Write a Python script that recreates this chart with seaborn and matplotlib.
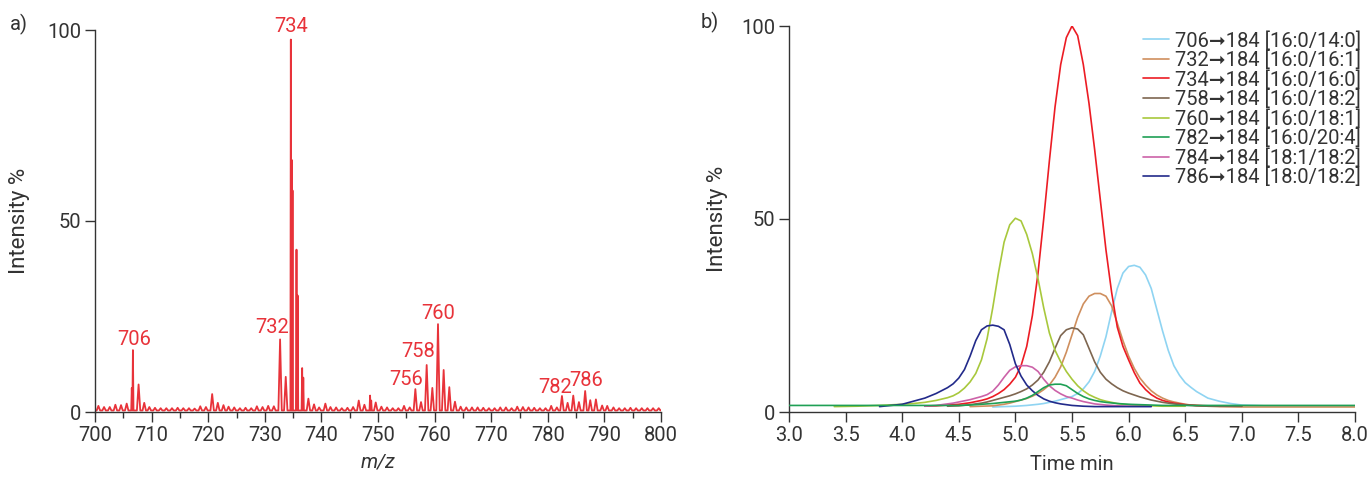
import numpy as np
import pandas as pd
import matplotlib
matplotlib.use('Agg')
import matplotlib.pyplot as plt
import matplotlib.ticker as mticker
import seaborn as sns

nan = np.nan

# ---- a) mass spectrum ----
# main peaks (m/z, intensity %)
peak_mz = [706.5, 706.7, 707.7, 708.7, 720.7, 721.7, 722.7,
           732.7, 733.7, 734.6, 734.75, 734.9, 735.6, 735.8, 736.6, 736.8, 737.7, 738.7,
           740.7, 746.6, 748.6, 748.8, 749.6,
           756.6, 757.6, 758.6, 759.6, 760.6, 761.6, 762.6, 763.6,
           782.5, 783.5, 784.5, 785.5, 786.6, 787.5, 788.5, 790.5]
peak_int = [6.3, 16.2, 7.2, 2.4, 4.7, 2.4, 1.8,
            19.0, 9.2, 97.5, 66.0, 58.0, 42.5, 30.5, 11.5, 9.0, 3.5, 2.0,
            2.2, 3.0, 4.3, 3.0, 2.5,
            6.0, 2.6, 12.3, 6.3, 23.0, 11.0, 6.5, 2.7,
            4.2, 2.4, 4.3, 2.6, 5.5, 3.1, 3.3, 1.6]

# small background peaks, one per nominal mass 700..799 (nan where a main peak sits)
noise_int = [1.6, 1.3, 1.3, 1.9, 1.8, 2.2, nan, nan, nan, 1.3,
             1.1, 1.0, 1.0, 1.0, 1.1, 1.0, 1.0, 0.9, 1.5, 1.3,
             nan, nan, nan, 1.4, 1.2, 1.0, 1.1, 1.0, 1.5, 1.3,
             1.6, 1.5, nan, nan, nan, nan, nan, nan, nan, 1.2,
             nan, 1.3, 1.2, 1.0, 1.1, 1.3, nan, 1.9, nan, nan,
             1.4, 1.2, 1.0, 1.0, 1.6, 1.2, nan, nan, nan, nan,
             nan, nan, nan, nan, 1.4, 1.2, 1.2, 1.2, 1.1, 1.0,
             1.0, 1.2, 1.2, 1.0, 1.4, 1.3, 1.2, 1.1, 1.0, 1.0,
             1.6, 1.2, nan, nan, nan, nan, nan, nan, nan, 1.7,
             nan, 1.2, 1.0, 1.0, 1.1, 1.0, 1.0, 1.0, 1.0, 1.0]

label_text = ['706', '732', '734', '756', '758', '760', '782', '786']

# ---- b) chromatograms ----
# time grid: coarse on the flat baseline, 0.05 min across the peaks
time = ([3.0, 3.2, 3.4, 3.6, 3.8, 4.0, 4.1, 4.2, 4.3]
        + list(np.round(np.arange(4.4, 6.601, 0.05), 2))
        + [6.7, 6.8, 6.9, 7.0, 7.2, 7.4, 7.6, 7.8, 8.0])
transitions = ['706\u279e184 [16:0/14:0]', '732\u279e184 [16:0/16:1]',
               '734\u279e184 [16:0/16:0]', '758\u279e184 [16:0/18:2]',
               '760\u279e184 [16:0/18:1]', '782\u279e184 [16:0/20:4]',
               '784\u279e184 [18:1/18:2]', '786\u279e184 [18:0/18:2]']
y706 = ([nan] * 9
        + [nan] * 8
        + [1.3, 1.35, 1.4, 1.45, 1.5, 1.6, 1.7, 1.85, 2.0, 2.2,
           2.5, 2.8, 3.2, 3.6, 4.0, 4.8, 6.0, 7.8, 10.5, 14.5,
           19.5, 26, 32, 36, 37.7, 38, 37.5, 35.5, 32, 26.5,
           21, 16, 12, 9.5, 7.6, 6.4, 5.3]
        + [3.6, 2.8, 2.2, 1.8, 1.6, 1.6, 1.6, 1.6, 1.6])
y732 = ([nan] * 9
        + [nan] * 4
        + [1.4, 1.45, 1.5, 1.55, 1.6, 1.8, 2.0, 2.3, 2.7, 3.1,
           3.5, 4.1, 4.8, 5.8, 7.0, 9.0, 11.7, 15.5, 20, 24.5,
           28, 30, 30.7, 30.7, 30, 27.5, 23, 18.5, 14.5, 11.3,
           8.8, 7.0, 5.5, 4.4, 3.6, 3.0, 2.6, 2.3, 2.0, 1.8, 1.7]
        + [1.5, 1.4, 1.35, 1.3, 1.3, 1.3, 1.3, 1.3, 1.3])
y734 = ([nan] * 7 + [1.5, 1.6]
        + [1.8, 1.9, 2.0, 2.2, 2.4, 2.7, 3.0, 3.4, 4.0, 4.8,
           5.8, 7.2, 9.0, 12, 17, 25, 36, 50, 65, 79,
           90, 97, 100, 97.5, 90, 80, 68, 55, 42, 31,
           22, 17, 13.5, 10.2, 7.5, 5.8, 4.5, 3.6, 3.0, 2.6,
           2.3, 2.1, 1.9, 1.8, 1.7]
        + [1.6, 1.5, 1.5, 1.5] + [nan] * 5)
y758 = ([nan] * 9
        + [1.5, 1.55, 1.6, 1.75, 1.9, 2.1, 2.3, 2.6, 3.0, 3.4,
           3.8, 4.2, 4.7, 5.3, 6.0, 7.0, 8.3, 10.3, 13, 16.5,
           19.8, 21.3, 21.8, 21.5, 20, 16.5, 13, 10.3, 8.5, 7.3,
           6.3, 5.5, 4.9, 4.4, 3.9, 3.5, 3.1, 2.8, 2.5, 2.3,
           2.1, 1.95, 1.8, 1.7, 1.6]
        + [1.5, 1.5, 1.5, 1.5] + [nan] * 5)
y760 = ([nan, nan, 1.4, 1.5, 1.7, 2.0, 2.2, 2.5, 3.0]
        + [3.7, 4.2, 5.0, 6.2, 7.8, 10.0, 13.5, 19, 27, 36,
           44, 48.5, 50.2, 49.5, 46, 41, 34.5, 27, 20.5, 16,
           13, 10.5, 8.5, 6.8, 5.5, 4.5, 3.8, 3.2, 2.8, 2.5,
           2.2, 2.0, 1.9, 1.8, 1.7, 1.65, 1.6, 1.55, 1.5, 1.5,
           1.5, 1.5, 1.5, nan, nan]
        + [nan] * 9)
y782 = ([1.7] * 9
        + [1.7, 1.7, 1.7, 1.75, 1.8, 1.9, 2.0, 2.1, 2.2, 2.35,
           2.5, 2.65, 2.8, 3.1, 3.6, 4.3, 5.3, 6.3, 7.0, 7.2,
           7.2, 6.8, 5.8, 4.8, 4.0, 3.4, 3.0, 2.7, 2.5, 2.35,
           2.2, 2.1, 2.0, 1.95, 1.9, 1.85, 1.8, 1.75, 1.7, 1.7,
           1.7, 1.7, 1.7, 1.7, 1.7]
        + [1.7] * 9)
y784 = ([nan] * 7 + [1.5, 1.7]
        + [2.1, 2.3, 2.6, 2.9, 3.2, 3.6, 4.0, 4.5, 5.4, 7.0,
           9.0, 10.8, 11.7, 12.0, 12.0, 11.6, 10.5, 8.5, 6.8, 5.6,
           4.7, 4.0, 3.6, 3.1, 2.7, 2.4, 2.1, 1.95, 1.8, 1.7,
           1.6, 1.55, 1.5, 1.5, 1.5, 1.5, 1.5]
        + [nan] * 8 + [nan] * 9)
y786 = ([nan, nan, nan, nan, 1.4, 2.0, 2.8, 3.6, 4.8]
        + [6.3, 7.3, 8.8, 11.0, 14.5, 18.5, 21.3, 22.3, 22.5, 22.2,
           21.3, 17.5, 12.5, 9.3, 7.0, 5.5, 4.3, 3.4, 2.8, 2.4,
           2.1, 1.9, 1.7, 1.6, 1.5, 1.45, 1.4]
        + [1.4] * 10 + [nan] * 8 + [nan] * 9)
chrom = [y706, y732, y734, y758, y760, y782, y784, y786]
chrom_colors = ['#8fd4f2', '#cf8f5e', '#ec1c24', '#7e6650', '#a8c83c', '#1fa055',
                '#cc62a8', '#222a8a']

# ---- style ----
sns.set_style('ticks')
plt.rcParams['font.family'] = ['Roboto', 'DejaVu Sans']
text_c = '#333333'
spec_red = '#e8333a'
plt.rcParams.update({
    'axes.edgecolor': text_c, 'axes.linewidth': 1.0,
    'xtick.color': text_c, 'ytick.color': text_c,
    'xtick.labelcolor': text_c, 'ytick.labelcolor': text_c,
    'axes.labelcolor': text_c, 'font.size': 14.5,
})

fig = plt.figure(figsize=(13.72, 4.78), dpi=100)
W, H = 1372, 478
ax1 = fig.add_axes([95 / W, 1 - 412 / H, 566 / W, 382 / H])
ax2 = fig.add_axes([789 / W, 1 - 412 / H, 566 / W, 386 / H])

# build profile of the spectrum from the peak list
mz_list = list(peak_mz)
in_list = list(peak_int)
for i, v in enumerate(noise_int):
    if not np.isnan(v):
        mz_list.append(700.6 + i)
        in_list.append(v)
order = np.argsort(mz_list)
c = np.array(mz_list)[order]
h = np.array(in_list)[order]
base = 0.4
gaps = np.diff(c)
px, py = [700.0], [base]
for k in range(len(c)):
    gl = gaps[k - 1] if k > 0 else 1.0
    gr = gaps[k] if k < len(gaps) else 1.0
    w = min(0.3, 0.5 * gl, 0.5 * gr)
    px += [c[k] - w, c[k], c[k] + w]
    py += [base, h[k], base]
px.append(800.0)
py.append(base)
spec = pd.DataFrame({'mz': px, 'intensity': py})
sns.lineplot(data=spec, x='mz', y='intensity', ax=ax1, sort=False, estimator=None,
             color=spec_red, lw=1.3)

label_x = [706.9, 731.3, 734.6, 754.9, 757.1, 760.6, 781.3, 786.7]
label_y = [17.5, 20.7, 99.5, 7.1, 14.4, 24.3, 5.0, 6.8]
for t, x, y in zip(label_text, label_x, label_y):
    ax1.text(x, y, t, ha='center', va='baseline', color=spec_red, fontsize=14.5)

ax1.set_xlim(700, 800)
ax1.set_ylim(0, 100)
ax1.xaxis.set_major_locator(mticker.MultipleLocator(10))
ax1.xaxis.set_minor_locator(mticker.MultipleLocator(5))
ax1.set_yticks([0, 50, 100])
ax1.set_xlabel('m/z', style='italic')
ax1.set_ylabel('Intensity %', fontsize=16)

# chromatograms
rows = []
for name, ys in zip(transitions, chrom):
    for t, v in zip(time, ys):
        if not np.isnan(v):
            rows.append((name, t, v))
cdf = pd.DataFrame(rows, columns=['transition', 'time', 'intensity'])
sns.lineplot(data=cdf, x='time', y='intensity', hue='transition', hue_order=transitions,
             palette=chrom_colors, ax=ax2, sort=False, estimator=None, lw=1.2)
for ln in ax2.get_lines():
    if ln.get_color() == chrom_colors[5]:
        ln.set_zorder(3)
ax2.set_xlim(3, 8)
ax2.set_ylim(0, 100)
ax2.xaxis.set_major_locator(mticker.MultipleLocator(0.5))
ax2.xaxis.set_major_formatter(mticker.FormatStrFormatter('%.1f'))
ax2.set_yticks([0, 50, 100])
ax2.set_xlabel('Time min')
ax2.set_ylabel('Intensity %', fontsize=16)
ax2.legend(loc='upper left', bbox_to_anchor=(1143 / W, 1 - 31 / H),
           bbox_transform=fig.transFigure, frameon=False, fontsize=14.5,
           handlelength=1.3, handletextpad=0.3, labelspacing=0.0,
           borderpad=0, borderaxespad=0, labelcolor=text_c)

for ax in (ax1, ax2):
    sns.despine(ax=ax)
    ax.tick_params(axis='both', which='major', length=7, width=1.0, pad=3)
    ax.tick_params(axis='x', which='minor', length=4, width=1.0)
ax1.yaxis.set_label_coords(-0.115, 0.5)
ax2.yaxis.set_label_coords(-0.108, 0.5)
ax1.xaxis.set_label_coords(0.5, -0.105)
ax2.xaxis.set_label_coords(0.5, -0.112)

fig.text(19 / W, 1 - 24 / H, 'a)', ha='center', va='center', fontsize=14.5, color=text_c)
fig.text(710 / W, 1 - 22 / H, 'b)', ha='center', va='center', fontsize=14.5, color=text_c)

fig.savefig('out.png', dpi=100)
